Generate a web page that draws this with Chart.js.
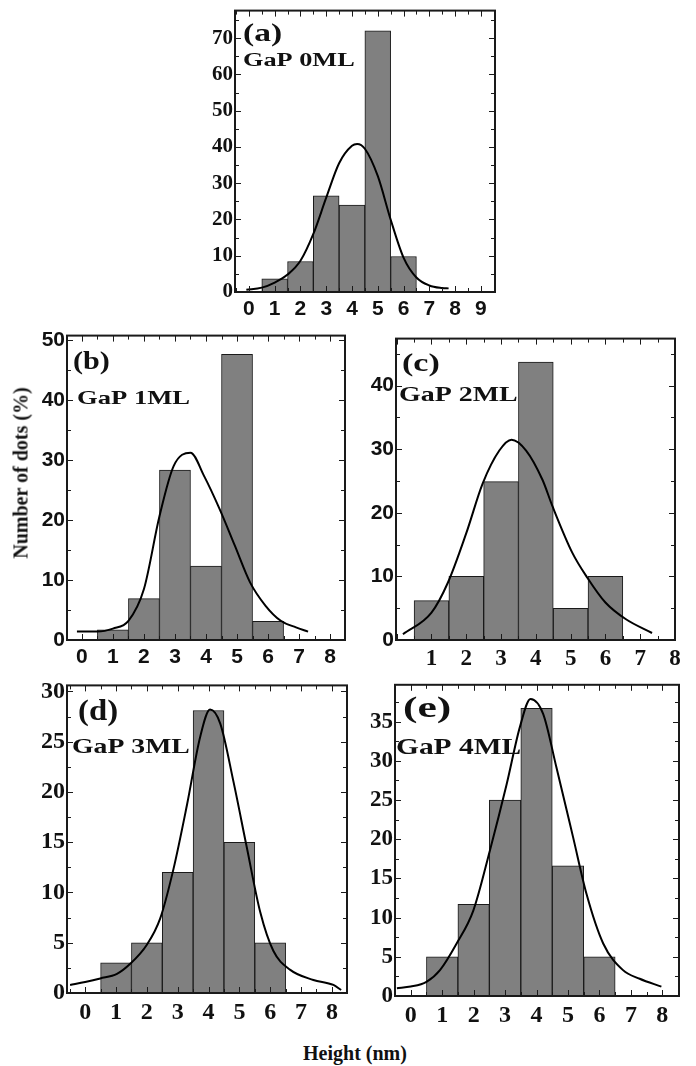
<!DOCTYPE html>
<html>
<head>
<meta charset="utf-8">
<script src="https://cdn.jsdelivr.net/npm/chart.js@4.4.1/dist/chart.umd.min.js"></script>
<style>
  html, body { margin: 0; padding: 0; background: #fff; }
  #fig { position: relative; width: 696px; height: 1066px; overflow: hidden; }
  #fig canvas { position: absolute; }
  .axis-title { position: absolute; font: bold 20px "Liberation Serif", "Times New Roman", serif; color: #111; white-space: nowrap; z-index: 2; }
  #ylab { left: 21px; top: 473px; transform: translate(-50%, -50%) rotate(-90deg); }
  #xlab { left: 355px; top: 1053px; transform: translate(-50%, -50%); }
</style>
</head>
<body>
<div id="fig">
  <div class="axis-title" id="ylab">Number of dots (%)</div>
  <div class="axis-title" id="xlab">Height (nm)</div>
</div>
<script>
const SERIF = '"Liberation Serif", "Times New Roman", serif';
const SANS = '"Liberation Sans", Arial, sans-serif';

// bin centres of the histograms (nm)
const binCenters = [1, 2, 3, 4, 5, 6];

// bar heights, number of dots (%)
const countsA = [3.6, 8.4, 26.5, 24, 72, 9.8];
const countsB = [1.7, 6.9, 28.3, 12.3, 47.6, 3.1];
const countsC = [6.2, 10, 24.9, 43.7, 5, 10];
const countsD = [3, 5, 12, 28.1, 15, 5];
const countsE = [5, 11.7, 25, 36.7, 16.6, 5];

// fitted curves
const fitXA = [-0.1, 0.5, 1, 1.5, 2, 2.5, 3, 3.5, 4, 4.2, 4.5, 5, 5.5, 6, 6.5, 7, 7.5, 7.75];
const fitYA = [0.6, 1.2, 2.6, 4.8, 8.6, 16, 26, 35.5, 40.3, 40.8, 39.5, 32, 20, 9.5, 4, 1.8, 1.1, 1.0];
const fitXB = [-0.16, 0.5, 1, 1.5, 2, 2.5, 2.96, 3.5, 3.94, 4.44, 4.93, 5.42, 5.92, 6.41, 6.9, 7.29];
const fitYB = [1.4, 1.4, 1.9, 3.2, 8.5, 20.6, 29, 31.2, 27.3, 21.8, 15.7, 9.6, 5.7, 3.2, 2.1, 1.4];
const fitXC = [0.18, 1, 1.47, 2, 2.47, 2.95, 3.3, 3.72, 4.19, 4.48, 5.05, 5.48, 6, 6.58, 7.34];
const fitYC = [0.9, 4.3, 9, 16.8, 24.6, 29.8, 31.5, 29.8, 25.2, 21, 13.7, 9.8, 5.9, 3.3, 1.1];
const fitXD = [-0.49, 0, 0.49, 1.03, 1.46, 2, 2.43, 2.86, 3.3, 3.73, 4.05, 4.38, 4.81, 5.24, 5.68, 6.1, 6.65, 7.4, 8.05, 8.3];
const fitYD = [0.8, 1.1, 1.45, 1.9, 2.9, 4.8, 7.4, 12.3, 18.7, 25.5, 28.2, 26.8, 21, 14.5, 8, 4.2, 2.3, 1.3, 0.8, 0.3];
const fitXE = [-0.44, 0, 0.5, 0.93, 1.46, 1.99, 2.52, 3.05, 3.47, 3.81, 4.21, 4.63, 5.16, 5.59, 6.12, 6.75, 7.28, 7.97];
const fitYE = [1, 1.2, 1.8, 3.3, 6.7, 10.9, 18.6, 27, 34.3, 37.9, 36, 29.2, 20.3, 13, 6.7, 3.3, 2.2, 1.2];

const panelTags = ['(a)', '(b)', '(c)', '(d)', '(e)'];
const sampleNames = ['GaP 0ML', 'GaP 1ML', 'GaP 2ML', 'GaP 3ML', 'GaP 4ML'];

// frame = [left, top, right, bottom] of the plot box on the page
const panels = [
  { frame: [235, 10, 495, 292], xMin: -0.54, xMax: 9.55, yMax: 77.6, yStep: 10,
    counts: countsA, fitX: fitXA, fitY: fitYA, xFont: { family: SANS, size: 21, weight: 'bold' }, yFont: { family: SERIF, size: 21, weight: 'bold' },
    tag: { dx: 8, dy: 30, size: 26, sx: 1.29 }, name: { dx: 8, dy: 55, size: 18, sx: 1.46 } },
  { frame: [67, 335, 345, 640], xMin: -0.48, xMax: 8.48, yMax: 50.7, yStep: 10,
    counts: countsB, fitX: fitXB, fitY: fitYB, xFont: { family: SANS, size: 21, weight: 'bold' }, yFont: { family: SANS, size: 21, weight: 'bold' },
    tag: { dx: 6, dy: 33, size: 26, sx: 1.16 }, name: { dx: 10, dy: 68, size: 19, sx: 1.4 } },
  { frame: [396, 338, 675, 640], xMin: -0.02, xMax: 8.0, yMax: 47.4, yStep: 10, hideZero: true,
    counts: countsC, fitX: fitXC, fitY: fitYC, xFont: { family: SERIF, size: 23, weight: 'bold' }, yFont: { family: SANS, size: 21, weight: 'bold' },
    tag: { dx: 6, dy: 32, size: 26, sx: 1.31 }, name: { dx: 3, dy: 62, size: 22, sx: 1.27 } },
  { frame: [67, 683, 347, 993], xMin: -0.59, xMax: 8.49, yMax: 30.6, yStep: 5,
    counts: countsD, fitX: fitXD, fitY: fitYD, xFont: { family: SERIF, size: 24, weight: 'bold' }, yFont: { family: SERIF, size: 24, weight: 'bold' },
    tag: { dx: 11, dy: 35, size: 29, sx: 1.13 }, name: { dx: 5, dy: 68, size: 22, sx: 1.26 } },
  { frame: [395, 683, 679, 996], xMin: -0.5, xMax: 8.53, yMax: 39.7, yStep: 5,
    counts: countsE, fitX: fitXE, fitY: fitYE, xFont: { family: SERIF, size: 24, weight: 'bold' }, yFont: { family: SERIF, size: 23, weight: 'bold' },
    tag: { dx: 8, dy: 32, size: 30, sx: 1.45 }, name: { dx: 1, dy: 69, size: 23, sx: 1.28 } },
];

// box round the plot with inward ticks on all four sides
const frameTicks = {
  id: 'frameTicks',
  afterDatasetsDraw(chart, args, opts) {
    const { ctx, chartArea: a } = chart;
    const x = chart.scales.x, y = chart.scales.y;
    ctx.save();
    ctx.strokeStyle = '#1a1a1a';
    ctx.lineWidth = 1;
    ctx.beginPath();
    for (let k = Math.ceil(x.min / 0.5); k * 0.5 <= x.max; k++) {
      const px = Math.round(x.getPixelForValue(k * 0.5)) + 0.5;
      const len = k % 2 === 0 ? 6 : 4;
      ctx.moveTo(px, a.bottom); ctx.lineTo(px, a.bottom - len);
      ctx.moveTo(px, a.top); ctx.lineTo(px, a.top + len);
    }
    const minor = opts.yStep / 2;
    for (let k = 0; k * minor <= y.max; k++) {
      const py = Math.round(y.getPixelForValue(k * minor)) + 0.5;
      const len = k % 2 === 0 ? 6 : 4;
      ctx.moveTo(a.left, py); ctx.lineTo(a.left + len, py);
      ctx.moveTo(a.right, py); ctx.lineTo(a.right - len, py);
    }
    ctx.stroke();
    ctx.lineWidth = 2;
    ctx.strokeRect(a.left, a.top, a.right - a.left, a.bottom - a.top);
    ctx.restore();
  }
};

// "(a)" and "GaP xML" inside the box, the original type is stretched sideways
const panelText = {
  id: 'panelText',
  afterDraw(chart, args, opts) {
    const { ctx, chartArea: a } = chart;
    opts.items.forEach(t => {
      ctx.save();
      ctx.font = 'bold ' + t.size + 'px ' + SERIF;
      ctx.fillStyle = '#111';
      ctx.textBaseline = 'alphabetic';
      ctx.translate(a.left + t.dx, a.top + t.dy);
      ctx.scale(t.sx, 1);
      ctx.fillText(t.text, 0, 0);
      ctx.restore();
    });
  }
};

const fig = document.getElementById('fig');

panels.forEach((p, i) => {
  const [L, T, R, B] = p.frame;
  const padL = 62, padT = 14, padR = 16, padB = 40;
  const cv = document.createElement('canvas');
  cv.width = (R - L) + padL + padR;
  cv.height = (B - T) + padT + padB;
  cv.style.left = (L - padL) + 'px';
  cv.style.top = (T - padT) + 'px';
  cv.style.width = cv.width + 'px';
  cv.style.height = cv.height + 'px';
  fig.appendChild(cv);

  new Chart(cv, {
    data: {
      datasets: [
        {
          type: 'line',
          data: p.fitX.map((x, k) => ({ x, y: p.fitY[k] })),
          borderColor: '#000',
          borderWidth: 2,
          pointRadius: 0,
          cubicInterpolationMode: 'monotone',
          order: 0,
        },
        {
          type: 'bar',
          data: binCenters.map((x, k) => ({ x, y: p.counts[k] })),
          backgroundColor: '#808080',
          borderColor: '#1a1a1a',
          borderWidth: 1,
          barPercentage: 1,
          categoryPercentage: 1,
          order: 1,
        },
      ],
    },
    options: {
      responsive: false,
      animation: false,
      devicePixelRatio: 1,
      layout: { padding: { top: padT, right: padR, left: 0, bottom: 0 } },
      plugins: {
        legend: { display: false },
        tooltip: { enabled: false },
        frameTicks: { yStep: p.yStep },
        panelText: {
          items: [
            Object.assign({ text: panelTags[i] }, p.tag),
            Object.assign({ text: sampleNames[i] }, p.name),
          ],
        },
      },
      scales: {
        x: {
          type: 'linear',
          offset: false,
          min: p.xMin,
          max: p.xMax,
          afterFit: s => { s.height = padB; },
          grid: { display: false, drawTicks: false },
          border: { display: false },
          ticks: {
            stepSize: 1,
            includeBounds: false,
            autoSkip: false,
            maxRotation: 0,
            padding: 5,
            color: '#111',
            font: p.xFont,
            callback: v => (p.hideZero && v === 0) ? '' : v,
          },
        },
        y: {
          type: 'linear',
          min: 0,
          max: p.yMax,
          afterFit: s => { s.width = padL; },
          grid: { display: false, drawTicks: false },
          border: { display: false },
          ticks: {
            stepSize: p.yStep,
            includeBounds: false,
            autoSkip: false,
            padding: 2,
            color: '#111',
            font: p.yFont,
          },
        },
      },
    },
    plugins: [frameTicks, panelText],
  });
});
</script>
</body>
</html>
